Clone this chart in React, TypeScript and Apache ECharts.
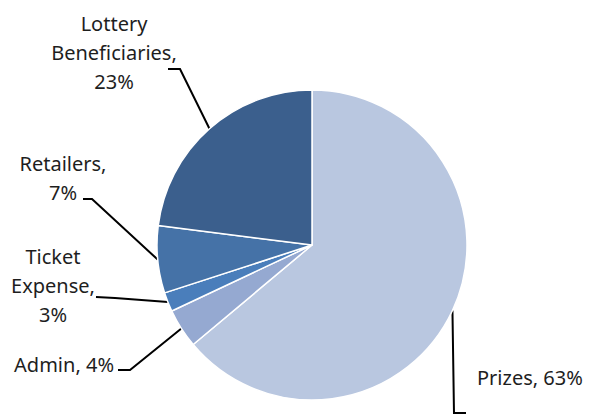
import React, { useEffect, useRef } from "react";
import * as echarts from "echarts";

const categories = ["Prizes", "Admin", "Ticket Expense", "Retailers", "Lottery Beneficiaries"];
const values = [63.9, 4.1, 2.0, 7.0, 23.0];
const displayPercents = [63, 4, 3, 7, 23];
const colors = ["#B9C7E0", "#95A9D1", "#4A7EBB", "#4572A7", "#3B5F8D"];

// label placement (style only)
const labelStyle = [
  { mode: "inline", align: "left", x: 477, y: 377, elbow: [454, 413], end: [466, 413] },
  { mode: "inline", align: "right", x: 114, y: 364, elbow: [130, 370], end: [118, 370] },
  { mode: "full", align: "center", x: 53, y: 285, elbow: [115, 298], end: [96, 297] },
  { mode: "pct", align: "center", x: 63, y: 178, elbow: [92, 199], end: [83, 199] },
  { mode: "full", align: "center", x: 114, y: 52, elbow: [180, 69], end: [168, 69] },
];

const CX = 312;
const CY = 245;
const R = 155;

function labelText(i: number): string {
  const name = categories[i];
  const pct = displayPercents[i] + "%";
  const mode = labelStyle[i].mode;
  if (mode === "inline") return `${name}, ${pct}`;
  if (mode === "pct") return `${name},\n${pct}`;
  return `${name.replace(" ", "\n")},\n${pct}`;
}

function anchorPoint(i: number): number[] {
  const total = values.reduce((a, b) => a + b, 0);
  let before = 0;
  for (let k = 0; k < i; k++) before += values[k];
  const mid = ((before + values[i] / 2) / total) * Math.PI * 2;
  return [CX + R * Math.sin(mid), CY - R * Math.cos(mid)];
}

export default function App() {
  const ref = useRef<HTMLDivElement>(null);
  useEffect(() => {
    if (!ref.current) return;
    const chart = echarts.init(ref.current, undefined, { renderer: "svg" });
    chart.setOption({
      animation: false,
      backgroundColor: "#ffffff",
      series: [
        {
          type: "pie",
          center: [CX, CY],
          radius: R,
          startAngle: 90,
          clockwise: true,
          avoidLabelOverlap: false,
          data: categories.map((c, i) => ({
            name: c,
            value: values[i],
            itemStyle: { color: colors[i] },
          })),
          itemStyle: { borderColor: "#ffffff", borderWidth: 1.5 },
          label: {
            show: true,
            position: "outside",
            formatter: (p: any) => labelText(p.dataIndex),
            fontFamily: "Noto Sans",
            fontSize: 20,
            lineHeight: 29,
            color: "#1e1e1e",
          },
          labelLine: {
            show: true,
            length: 10,
            length2: 10,
            lineStyle: { color: "#000000", width: 2 },
          },
          labelLayout: (params: any) => {
            const i = params.dataIndex;
            const s = labelStyle[i];
            return {
              x: s.x,
              y: s.y,
              align: s.align,
              verticalAlign: "middle",
              labelLinePoints: [anchorPoint(i), s.elbow, s.end],
            };
          },
          emphasis: { disabled: true },
        },
      ],
    });
    return () => chart.dispose();
  }, []);
  return (
    <div
      ref={ref}
      style={{ position: "fixed", left: 0, top: 0, width: 590, height: 415, background: "#fff" }}
    />
  );
}
